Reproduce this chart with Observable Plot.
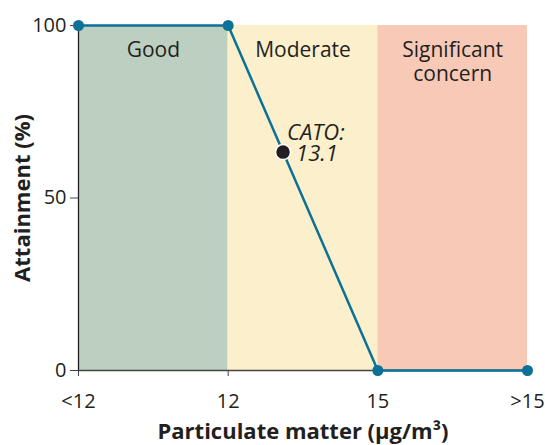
<!DOCTYPE html>
<html><head><meta charset="utf-8">
<script src="https://cdn.jsdelivr.net/npm/d3@7"></script>
<script src="https://cdn.jsdelivr.net/npm/@observablehq/plot@0.6"></script>
<style>body{margin:0;background:#fff;font-family:"Open Sans",sans-serif}</style>
</head><body><div id="chart"></div>
<script>
const xPositions = [9, 12, 15, 18];
const xTickLabels = ["<12", "12", "15", ">15"];
const attainment = [100, 100, 0, 0];
const zoneNames = ["Good", "Moderate", "Significant\nconcern"];
const zoneStart = [9, 12, 15];
const zoneEnd = [12, 15, 18];
const zoneColors = ["#bccfc0", "#fcefcb", "#f8c9b6"];
const catoValue = [13.1];
const catoAttainment = [63.3];
const catoName = ["CATO:"];
const catoText = ["13.1"];

const line = xPositions.map((x, i) => ({x, y: attainment[i]}));
const zones = zoneNames.map((name, i) => ({name, x1: zoneStart[i], x2: zoneEnd[i], color: zoneColors[i]}));
const cato = [{x: catoValue[0], y: catoAttainment[0], name: catoName[0], value: catoText[0]}];
const fmt = d => xTickLabels[xPositions.indexOf(d)];

const chart = Plot.plot({
  width: 545, height: 445,
  marginLeft: 78, marginRight: 18, marginTop: 25, marginBottom: 75,
  style: {fontFamily: "Open Sans, sans-serif", fontSize: "20px", color: "#231f20", background: "#fff"},
  x: {domain: [9, 18], ticks: xPositions, tickFormat: fmt, label: null},
  y: {domain: [0, 100], ticks: [0, 50, 100], label: null},
  marks: [
    Plot.rectY(zones, {x1: "x1", x2: "x2", y1: 0, y2: 100, fill: "color"}),
    Plot.text(zones, {x: d => (d.x1 + d.x2) / 2, y: 100, text: "name", dy: 15, lineAnchor: "top", fontSize: 21, fill: "#231f20", lineHeight: 1.12}),
    Plot.ruleX([9], {stroke: "#231f20", strokeWidth: 1.3}),
    Plot.ruleY([0], {stroke: "#444", strokeWidth: 1.5}),
    Plot.axisX({ticks: xPositions, tickFormat: fmt, tickSize: 6, tickPadding: 17, stroke: "#444", fontSize: 20, label: null}),
    Plot.axisY({ticks: [0, 50, 100], tickSize: 8, tickPadding: 4, stroke: "#444", fontSize: 20, label: null}),
    Plot.line(line, {x: "x", y: "y", stroke: "#0b7196", strokeWidth: 2.5}),
    Plot.dot(line, {x: "x", y: "y", r: 5.5, fill: "#0b7196"}),
    Plot.dot(cato, {x: "x", y: "y", r: 7.5, fill: "#231f20", stroke: "#fff", strokeWidth: 1.5}),
    Plot.text(cato, {x: "x", y: "y", text: "name", dx: 4, dy: -19, textAnchor: "start", fontStyle: "italic", fontSize: 22, fill: "#231f20"}),
    Plot.text(cato, {x: "x", y: "y", text: "value", dx: 13, dy: 2, textAnchor: "start", fontStyle: "italic", fontSize: 22, fill: "#231f20"}),
    Plot.text(["Particulate matter (μg/m³)"], {frameAnchor: "bottom", text: d => d, dy: 61, lineAnchor: "middle", fontWeight: "bold", fontSize: 22, fill: "#231f20"}),
    Plot.text(["Attainment (%)"], {frameAnchor: "left", text: d => d, dx: -56, rotate: -90, textAnchor: "middle", fontWeight: "bold", fontSize: 22, fill: "#231f20"})
  ]
});
document.getElementById("chart").appendChild(chart);
</script></body></html>
